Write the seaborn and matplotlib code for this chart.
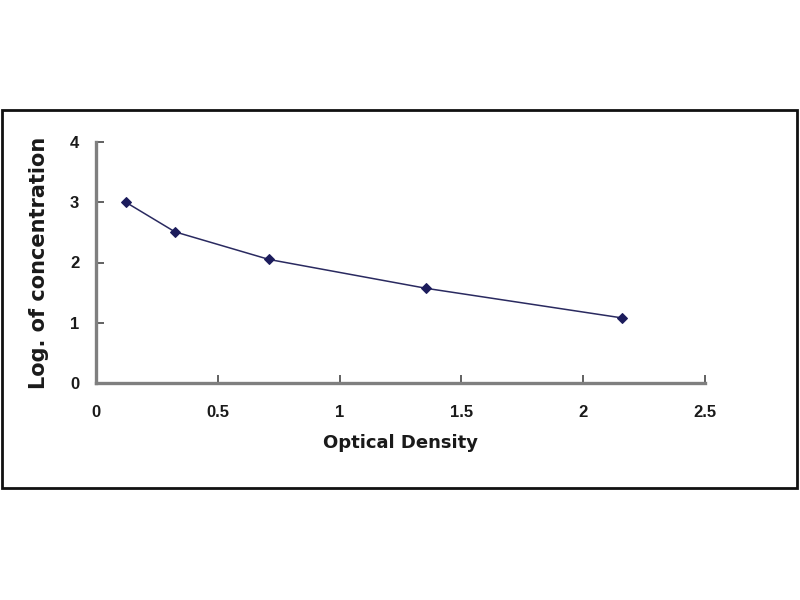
import numpy as np
import pandas as pd
import seaborn as sns
import matplotlib.pyplot as plt
from matplotlib.patches import Rectangle


od = [0.123, 0.324, 0.711, 1.357, 2.158]
log_conc = [3.0, 2.51, 2.05, 1.57, 1.08]

xticks = [0, 0.5, 1, 1.5, 2, 2.5]
xtick_labels = ['0', '0.5', '1', '1.5', '2', '2.5']
yticks = [0, 1, 2, 3, 4]

df = pd.DataFrame({'Optical Density': od, 'Log. of concentration': log_conc})

sns.set_style("white")
plt.rcParams['font.family'] = ['Liberation Sans', 'DejaVu Sans']

fig = plt.figure(figsize=(8, 6), dpi=100)
fig.patches.append(Rectangle((0.003, 0.187), 0.993, 0.63, transform=fig.transFigure,
                             fill=False, edgecolor='#111111', linewidth=2))

ax = fig.add_axes([0.12, 0.362, 0.761, 0.401])

# standard curve: points joined by a line
sns.lineplot(data=df, x='Optical Density', y='Log. of concentration', ax=ax,
             color='#2a2a60', lw=1.1, marker='D', markersize=5.5,
             markerfacecolor='#1c1c5c', markeredgecolor='#1c1c5c', solid_joinstyle='round')

ax.set_xlim(0, 2.5)
ax.set_ylim(0, 4)
ax.set_xticks(xticks)
ax.set_xticklabels(xtick_labels)
ax.set_yticks(yticks)

sns.despine(ax=ax)
for s in ['left', 'bottom']:
    ax.spines[s].set_color('#7f7f7f')
    ax.spines[s].set_linewidth(2.4)
ax.tick_params(bottom=True, left=True, direction='in', length=6, width=1.3, color='#555555',
               labelsize=12, labelcolor='#1a1a1a')
ax.tick_params(axis='x', pad=16)
ax.tick_params(axis='y', pad=12)
for lab in ax.get_xticklabels() + ax.get_yticklabels():
    lab.set_fontweight('bold')

ax.set_xlabel('Optical Density', fontsize=13, fontweight='bold', color='#1a1a1a',
              family='DejaVu Sans', labelpad=10)
ax.set_ylabel('Log. of concentration', fontsize=15, fontweight='bold', color='#1a1a1a',
              family='DejaVu Sans', labelpad=15)

fig.savefig('out.png', dpi=100, facecolor='white')
